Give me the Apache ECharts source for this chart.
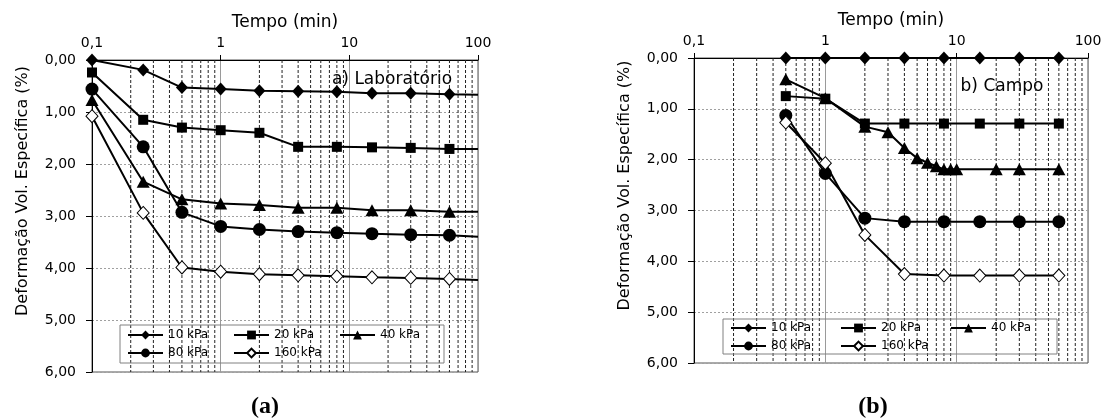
<!DOCTYPE html>
<html>
<head>
<meta charset="utf-8">
<script src="https://cdn.jsdelivr.net/npm/echarts@6/dist/echarts.min.js"></script>
<style>
html,body{margin:0;padding:0;background:#fff;}
#c{width:1107px;height:419px;}
</style>
</head>
<body>
<div id="c"></div>
<script>
// ---- data ----
const seriesNames = ['10 kPa', '20 kPa', '40 kPa', '80 kPa', '160 kPa'];
const xTickLabels = ['0,1', '1', '10', '100'];
const yTickLabels = ['0,00', '1,00', '2,00', '3,00', '4,00', '5,00', '6,00'];
const minorTicks = [0.2,0.3,0.4,0.5,0.6,0.7,0.8,0.9,2,3,4,5,6,7,8,9,20,30,40,50,60,70,80,90];

// (a) Laboratório
const labTimes = [0.1, 0.25, 0.5, 1, 2, 4, 8, 15, 30, 60, 100];
const lab10  = [0.00, 0.19, 0.53, 0.56, 0.59, 0.60, 0.61, 0.64, 0.64, 0.66, 0.67];
const lab20  = [0.24, 1.15, 1.30, 1.35, 1.40, 1.67, 1.67, 1.68, 1.69, 1.71, 1.71];
const lab40  = [0.77, 2.34, 2.68, 2.76, 2.79, 2.84, 2.84, 2.89, 2.89, 2.92, 2.92];
const lab80  = [0.56, 1.67, 2.93, 3.20, 3.26, 3.30, 3.32, 3.34, 3.36, 3.37, 3.40];
const lab160 = [1.08, 2.94, 3.99, 4.07, 4.12, 4.14, 4.16, 4.18, 4.19, 4.21, 4.23];

// (b) Campo
const campTimes   = [0.5, 1, 2, 4, 8, 15, 30, 60];
const campTimes40 = [0.5, 1, 2, 3, 4, 5, 6, 7, 8, 9, 10, 20, 30, 60];
const camp10  = [0.00, 0.00, 0.00, 0.00, 0.00, 0.00, 0.00, 0.00];
const camp20  = [0.75, 0.80, 1.29, 1.29, 1.29, 1.29, 1.29, 1.29];
const camp40  = [0.42, 0.79, 1.35, 1.46, 1.77, 1.97, 2.06, 2.13, 2.19, 2.19, 2.19, 2.19, 2.19, 2.19];
const camp80  = [1.13, 2.27, 3.15, 3.22, 3.22, 3.22, 3.22, 3.22];
const camp160 = [1.27, 2.07, 3.48, 4.25, 4.28, 4.28, 4.28, 4.28];

// ---- styles ----
const FONT = 'DejaVu Sans';
const symbolStyles = {
  '10 kPa':  {symbol: 'diamond',  symbolSize: [12, 13], itemStyle: {color: '#000'}},
  '20 kPa':  {symbol: 'rect',     symbolSize: 10,       itemStyle: {color: '#000'}},
  '40 kPa':  {symbol: 'triangle', symbolSize: [13, 12], itemStyle: {color: '#000'}},
  '80 kPa':  {symbol: 'circle',   symbolSize: 13,       itemStyle: {color: '#000'}},
  '160 kPa': {symbol: 'diamond',  symbolSize: [12, 13], itemStyle: {color: '#fff', borderColor: '#000', borderWidth: 1}}
};

function pairs(times, vals, noMarkerAt) {
  return times.map((t, i) => {
    const item = {value: [t, vals[i]]};
    if (noMarkerAt !== undefined && t === noMarkerAt) item.symbol = 'none';
    return item;
  });
}

function mkSeries(name, times, vals, idx, noMarkerAt) {
  const s = symbolStyles[name];
  return {
    name: name, type: 'line', xAxisIndex: idx, yAxisIndex: idx,
    data: pairs(times, vals, noMarkerAt),
    symbol: s.symbol, symbolSize: s.symbolSize, showAllSymbol: true,
    itemStyle: s.itemStyle,
    lineStyle: {color: '#000', width: 2},
    z: 3, animation: false
  };
}

function minorGrid(idx) {
  return {
    name: 'minor' + idx, type: 'custom', xAxisIndex: idx, yAxisIndex: idx,
    silent: true, z: 1, animation: false,
    data: minorTicks.map(v => [v, 0]),
    renderItem: function (params, api) {
      const p1 = api.coord([api.value(0), 0]);
      const p2 = api.coord([api.value(0), 6]);
      return {type: 'line', shape: {x1: p1[0], y1: p1[1], x2: p2[0], y2: p2[1]},
              style: {stroke: '#222', lineWidth: 1, lineDash: [3, 2]}};
    }
  };
}

function xAxis(idx, gap) {
  return {
    type: 'log', logBase: 10, min: 0.1, max: 100, gridIndex: idx, position: 'top',
    name: 'Tempo (min)', nameLocation: 'middle', nameGap: gap,
    nameTextStyle: {fontFamily: FONT, fontSize: 17, color: '#000'},
    axisLine: {show: true, onZero: false, lineStyle: {color: '#000', width: 1}},
    axisTick: {show: true, inside: false, length: 5, lineStyle: {color: '#000'}},
    axisLabel: {margin: 10, fontFamily: FONT, fontSize: 14, color: '#000',
      formatter: v => xTickLabels[Math.round(Math.log10(v)) + 1]},
    splitLine: {show: true, lineStyle: {color: '#9a9a9a', width: 1, type: 'solid'}},
    minorTick: {show: false}, minorSplitLine: {show: false}
  };
}

function yAxis(idx) {
  return {
    type: 'value', inverse: true, min: 0, max: 6, interval: 1, gridIndex: idx,
    name: 'Deformação Vol. Específica (%)', nameLocation: 'middle', nameGap: 61, nameRotate: 90,
    nameTextStyle: {fontFamily: FONT, fontSize: 16, color: '#000', padding: [0, 0, 0, 50]},
    axisLine: {show: true, onZero: false, lineStyle: {color: '#000', width: 1}},
    axisTick: {show: true, inside: false, length: 6, lineStyle: {color: '#000'}},
    axisLabel: {margin: 16, fontFamily: FONT, fontSize: 14, color: '#000',
      formatter: v => yTickLabels[Math.round(v)]},
    splitLine: {show: true, lineStyle: {color: '#a0a0a0', width: 1, type: [2, 2]}}
  };
}

function legend(left, top, textW, pad) {
  return {
    data: seriesNames, orient: 'horizontal', left: left, top: top, width: 330,
    itemWidth: 35, itemHeight: 11, itemGap: 4, padding: pad,
    borderColor: '#808080', borderWidth: 1, borderRadius: 0,
    backgroundColor: 'transparent',
    textStyle: {fontFamily: FONT, fontSize: 12, color: '#000', width: textW, lineHeight: 14}
  };
}

const chart = echarts.init(document.getElementById('c'), null, {renderer: 'canvas'});
const option = {
  animation: false,
  backgroundColor: '#fff',
  textStyle: {fontFamily: FONT},
  grid: [
    {left: 92, top: 60, width: 386, height: 312, show: true, borderColor: '#555', borderWidth: 1, containLabel: false},
    {left: 694, top: 58, width: 394, height: 305, show: true, borderColor: '#555', borderWidth: 1, containLabel: false}
  ],
  xAxis: [xAxis(0, 28), xAxis(1, 27)],
  yAxis: [yAxis(0), yAxis(1)],
  legend: [legend(120, 325, 61, [3, 3, 3, 7]), legend(723, 319, 65, [2, 1, 1, 7])],
  graphic: [
    {type: 'text', x: 392, y: 80, style: {text: 'a) Laboratório', fill: '#000', font: '17px "DejaVu Sans"', align: 'center', verticalAlign: 'middle'}},
    {type: 'text', x: 1002, y: 87, style: {text: 'b) Campo', fill: '#000', font: '17px "DejaVu Sans"', align: 'center', verticalAlign: 'middle'}},
    {type: 'text', x: 265, y: 407, style: {text: '(a)', fill: '#000', font: 'bold 24px "Liberation Serif"', align: 'center', verticalAlign: 'middle'}},
    {type: 'text', x: 873, y: 407, style: {text: '(b)', fill: '#000', font: 'bold 24px "Liberation Serif"', align: 'center', verticalAlign: 'middle'}}
  ],
  series: [
    minorGrid(0), minorGrid(1),
    mkSeries('10 kPa', labTimes, lab10, 0, 100),
    mkSeries('20 kPa', labTimes, lab20, 0, 100),
    mkSeries('40 kPa', labTimes, lab40, 0, 100),
    mkSeries('80 kPa', labTimes, lab80, 0, 100),
    mkSeries('160 kPa', labTimes, lab160, 0, 100),
    mkSeries('10 kPa', campTimes, camp10, 1),
    mkSeries('20 kPa', campTimes, camp20, 1),
    mkSeries('40 kPa', campTimes40, camp40, 1),
    mkSeries('80 kPa', campTimes, camp80, 1),
    mkSeries('160 kPa', campTimes, camp160, 1)
  ]
};
chart.setOption(option);
</script>
</body>
</html>
